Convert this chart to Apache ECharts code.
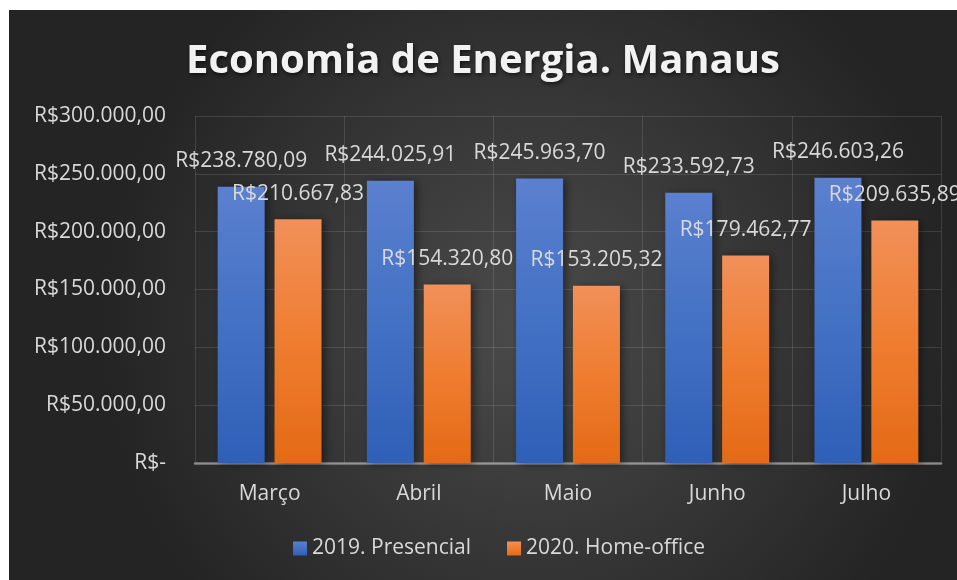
<!DOCTYPE html>
<html>
<head>
<meta charset="utf-8">
<script src="https://cdn.jsdelivr.net/npm/echarts@6/dist/echarts.min.js"></script>
<style>
  html, body { margin: 0; padding: 0; background: #fff; }
  #chart { position: absolute; left: 9px; top: 10px; width: 948px; height: 570px; }
</style>
</head>
<body>
<div id="chart"></div>
<script>
const months = ['Março', 'Abril', 'Maio', 'Junho', 'Julho']
const presencial2019 = [238780.09, 244025.91, 245963.70, 233592.73, 246603.26]
const homeOffice2020 = [210667.83, 154320.80, 153205.32, 179462.77, 209635.89]
const seriesNames = ['2019. Presencial', '2020. Home-office']

const FONT = '"Open Sans", sans-serif'
const TEXT = '#d9d9d9'

// R$ no formato brasileiro: 1.234,56
const brl = v => {
  if (v === 0) return 'R$-'
  const [int, dec] = v.toFixed(2).split('.')
  return 'R$' + int.replace(/\B(?=(\d{3})+(?!\d))/g, '.') + ',' + dec
}

const chart = echarts.init(document.getElementById('chart'))

const barLabel = {
  show: true,
  position: 'top',
  distance: 15,
  color: TEXT,
  fontFamily: FONT,
  fontSize: 21,
  formatter: p => brl(p.value)
}

chart.setOption({
  backgroundColor: {
    type: 'radial', x: 0.55, y: 0.55, r: 0.75,
    colorStops: [
      { offset: 0, color: '#4b4b4b' },
      { offset: 1, color: '#242424' }
    ]
  },
  title: {
    text: 'Economia de Energia. Manaus',
    left: 'center',
    top: 27,
    textStyle: {
      color: '#f2f2f2',
      fontFamily: FONT,
      fontWeight: 'bold',
      fontSize: 40,
      textShadowColor: 'rgba(0,0,0,0.6)',
      textShadowBlur: 4,
      textShadowOffsetX: 1,
      textShadowOffsetY: 2
    }
  },
  grid: { left: 186, right: 16, top: 106, bottom: 117 },
  legend: {
    bottom: 16,
    left: 279,
    icon: 'rect',
    itemWidth: 14,
    itemHeight: 14,
    itemGap: 36,
    textStyle: { color: TEXT, fontFamily: FONT, fontSize: 21 },
    data: seriesNames
  },
  xAxis: {
    type: 'category',
    data: months,
    axisTick: { show: false },
    axisLine: { lineStyle: { color: 'rgba(217,217,217,0.5)', width: 2.5 } },
    axisLabel: { color: TEXT, fontFamily: FONT, fontSize: 21, margin: 21 },
    splitLine: { show: true, lineStyle: { color: 'rgba(255,255,255,0.12)', width: 1 } }
  },
  yAxis: {
    type: 'value',
    min: 0,
    max: 300000,
    interval: 50000,
    axisLine: { show: false },
    axisTick: { show: false },
    axisLabel: { color: TEXT, fontFamily: FONT, fontSize: 21, margin: 29, formatter: brl },
    splitLine: { lineStyle: { color: 'rgba(255,255,255,0.12)', width: 1 } }
  },
  series: [
    {
      name: seriesNames[0],
      type: 'bar',
      data: presencial2019,
      barWidth: '31.5%',
      barGap: '21%',
      itemStyle: {
        color: new echarts.graphic.LinearGradient(0, 0, 0, 1, [
          { offset: 0, color: '#5b80cf' },
          { offset: 0.5, color: '#4371c4' },
          { offset: 1, color: '#2f5fb7' }
        ]),
        shadowColor: 'rgba(0,0,0,0.45)',
        shadowBlur: 8,
        shadowOffsetX: 3,
        shadowOffsetY: 1
      },
      label: barLabel
    },
    {
      name: seriesNames[1],
      type: 'bar',
      data: homeOffice2020,
      barWidth: '31.5%',
      itemStyle: {
        color: new echarts.graphic.LinearGradient(0, 0, 0, 1, [
          { offset: 0, color: '#f19059' },
          { offset: 0.5, color: '#ef7d30' },
          { offset: 1, color: '#e46a15' }
        ]),
        shadowColor: 'rgba(0,0,0,0.45)',
        shadowBlur: 8,
        shadowOffsetX: 3,
        shadowOffsetY: 1
      },
      label: barLabel
    }
  ]
})
</script>
</body>
</html>
